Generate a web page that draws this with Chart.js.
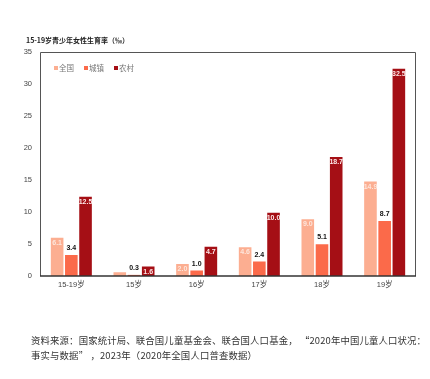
<!DOCTYPE html>
<html>
<head>
<meta charset="utf-8">
<script src="https://cdn.jsdelivr.net/npm/chart.js@4"></script>
<style>
  html, body { margin: 0; padding: 0; background: #fff; }
  #wrap { position: relative; width: 430px; height: 379px; }
  #title { position: absolute; left: 26px; top: 35px; font: bold 7px "Noto Sans CJK SC", Arial, sans-serif; color: #222; white-space: nowrap; }
  #source { position: absolute; left: 31px; top: 333px; font: 9.4px "Noto Sans CJK SC", sans-serif; line-height: 15px; color: #333; white-space: nowrap; letter-spacing: 0.15px; }
</style>
</head>
<body>
<div id="wrap">
  <canvas id="chart" width="430" height="379"></canvas>
  <div id="title">15-19岁青少年女性生育率（‰）</div>
  <div id="source">资料来源：国家统计局、联合国儿童基金会、联合国人口基金， “2020年中国儿童人口状况：<br>事实与数据” ，2023年（2020年全国人口普查数据）</div>
</div>
<script>
        const categories = ['15-19岁', '15岁', '16岁', '17岁', '18岁', '19岁'];
        const nationalValues = [6.1, 0.7, 2.0, 4.6, 9.0, 14.9];
        const urbanValues = [3.4, 0.3, 1.0, 2.4, 5.1, 8.7];
        const ruralValues = [12.5, 1.6, 4.7, 10.0, 18.7, 32.5];
        const seriesNames = ['全国', '城镇', '农村'];
        const yTicks = [0, 5, 10, 15, 20, 25, 30, 35];

        const colors = ['#fcae91', '#fb6a4a', '#a50f15'];

        // 边框、图例和数值标签
        const decorPlugin = {
            id: 'decor',
            afterDatasetsDraw(chart) {
                const ctx = chart.ctx;
                const area = chart.chartArea;
                ctx.save();

                // 外框
                ctx.strokeStyle = '#555';
                ctx.lineWidth = 1;
                ctx.beginPath();
                ctx.moveTo(area.left + 0.5, area.bottom);
                ctx.lineTo(area.left + 0.5, area.top + 0.5);
                ctx.lineTo(area.right - 0.5, area.top + 0.5);
                ctx.lineTo(area.right - 0.5, area.bottom);
                ctx.stroke();
                ctx.strokeStyle = '#333';
                ctx.lineWidth = 1.5;
                ctx.beginPath();
                ctx.moveTo(area.left, area.bottom);
                ctx.lineTo(area.right, area.bottom);
                ctx.stroke();

                // 图例
                ctx.font = '7.5px "Noto Sans CJK SC", sans-serif';
                ctx.textBaseline = 'middle';
                seriesNames.forEach((name, i) => {
                    const x = 54 + i * 30;
                    ctx.fillStyle = colors[i];
                    ctx.fillRect(x, 66, 4, 4);
                    ctx.fillStyle = '#777';
                    ctx.textAlign = 'left';
                    ctx.fillText(name, x + 5, 68);
                });

                // 数值标签
                ctx.font = 'bold 7px Arial, "Liberation Sans", sans-serif';
                ctx.textAlign = 'center';
                chart.data.datasets.forEach((ds, di) => {
                    const meta = chart.getDatasetMeta(di);
                    meta.data.forEach((bar, i) => {
                        const v = ds.data[i];
                        if (di === 0 && v < 1) return;
                        const txt = v.toFixed(1);
                        if (di === 1) {
                            ctx.fillStyle = '#111';
                            ctx.fillText(txt, bar.x, bar.y - 6);
                        } else {
                            ctx.fillStyle = di === 0 ? '#fde6dc' : '#fde8e8';
                            ctx.fillText(txt, bar.x, bar.y + 6);
                        }
                    });
                });
                ctx.restore();
            }
        };

        const datasets = [nationalValues, urbanValues, ruralValues].map((vals, i) => ({
            label: seriesNames[i],
            data: vals,
            backgroundColor: colors[i],
            borderColor: '#fff',
            borderWidth: 0.8,
            categoryPercentage: 0.68,
            barPercentage: 1.0
        }));

        new Chart(document.getElementById('chart'), {
            type: 'bar',
            data: { labels: categories, datasets },
            options: {
                responsive: false,
                animation: false,
                layout: { padding: { left: 0, right: 14, top: 52, bottom: 85 } },
                plugins: { legend: { display: false }, tooltip: { enabled: false } },
                scales: {
                    x: {
                        grid: { display: false, drawTicks: false },
                        border: { display: false },
                        ticks: { color: '#444', font: { size: 7.5, family: 'Arial, "Noto Sans CJK SC", sans-serif' }, padding: 4 },
                        afterFit(axis) { axis.height = 18; }
                    },
                    y: {
                        min: 0,
                        max: 35,
                        afterBuildTicks(axis) { axis.ticks = yTicks.map(v => ({ value: v })); },
                        grid: { display: false, drawTicks: false },
                        border: { display: false },
                        ticks: { color: '#444', font: { size: 7.5, family: 'Arial, sans-serif' }, padding: 8 },
                        afterFit(axis) { axis.width = 40; }
                    }
                }
            },
            plugins: [decorPlugin]
        });
</script>
</body>
</html>
